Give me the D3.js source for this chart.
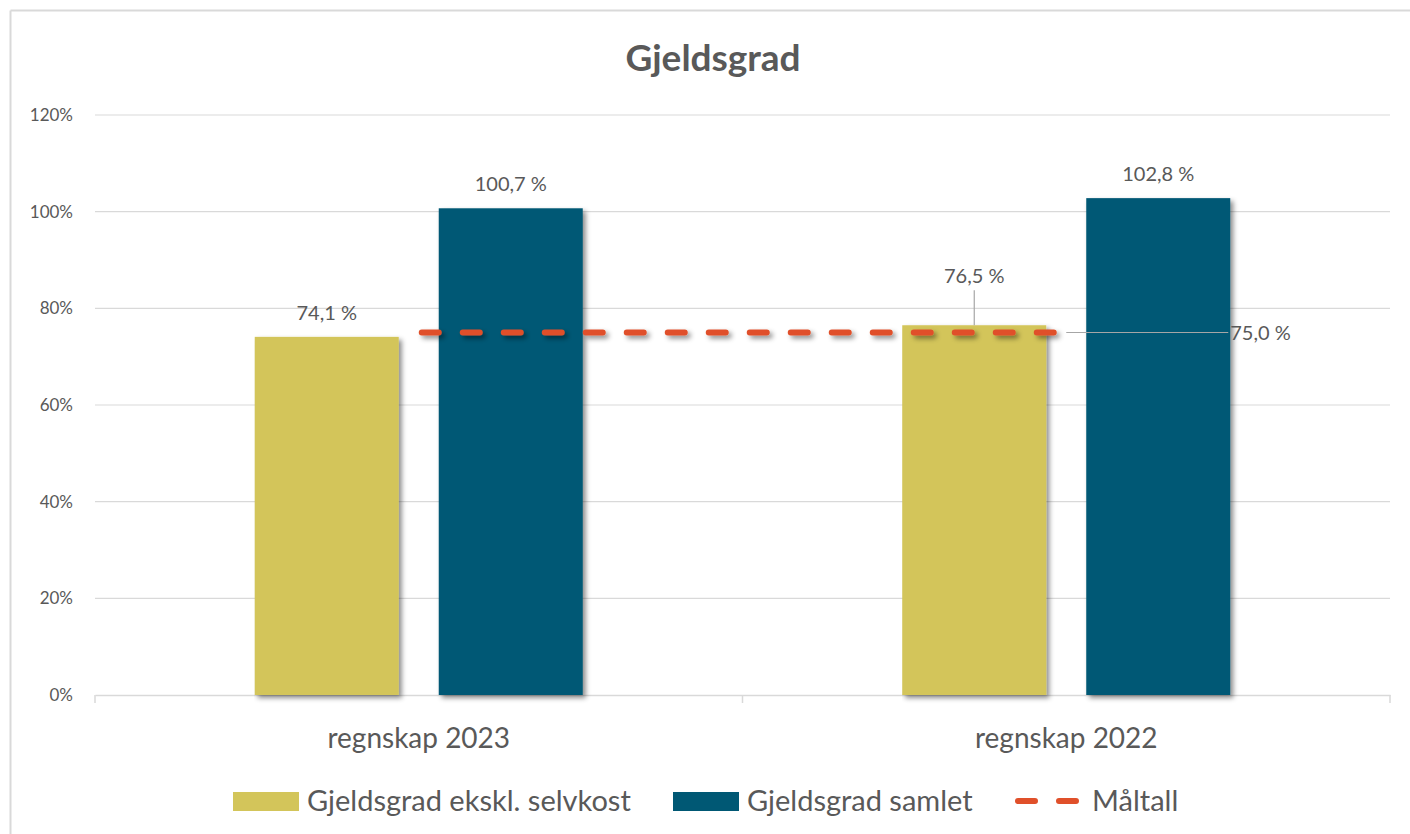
<!DOCTYPE html>
<html>
<head>
<meta charset="utf-8">
<script src="https://cdn.jsdelivr.net/npm/d3@7"></script>
<style>
  html, body { margin: 0; padding: 0; background: #fff; }
  svg { display: block; }
  text { font-family: Lato, "Open Sans", sans-serif; fill: #595959; }
</style>
</head>
<body>
<svg id="chart" width="1410" height="834"></svg>
<script>
const categories = ["regnskap 2023", "regnskap 2022"];
const seriesNames = ["Gjeldsgrad ekskl. selvkost", "Gjeldsgrad samlet"];
const exklSelvkost = [74.1, 76.5];
const samlet = [100.7, 102.8];
const maltall = [75.0, 75.0];
const yTicks = [0, 20, 40, 60, 80, 100, 120];
const lineName = "Måltall";
const title = "Gjeldsgrad";

const colors = ["#D3C55A", "#005874"];
const lineColor = "#E0502A";

const svg = d3.select("#chart");
const defs = svg.append("defs");
const f = defs.append("filter").attr("id", "shadow").attr("filterUnits", "userSpaceOnUse")
  .attr("x", 0).attr("y", 0).attr("width", 1410).attr("height", 834);
f.append("feDropShadow").attr("dx", 3).attr("dy", 3).attr("stdDeviation", 2.5).attr("flood-color", "#000").attr("flood-opacity", 0.45);

// outer border (top and left visible)
svg.append("line").attr("x1", 10.5).attr("x2", 1410).attr("y1", 10.5).attr("y2", 10.5).attr("stroke", "#d9d9d9").attr("stroke-width", 2);
svg.append("line").attr("x1", 10.5).attr("x2", 10.5).attr("y1", 10.5).attr("y2", 834).attr("stroke", "#d9d9d9").attr("stroke-width", 2);

const pLeft = 95, pRight = 1390, pTop = 115, pBottom = 695;
const x = d3.scaleBand().domain(categories).range([pLeft, pRight]).paddingInner(0).paddingOuter(0);
const y = d3.scaleLinear().domain([0, 120]).range([pBottom, pTop]);
const groupW = 328;
const xs = d3.scaleBand().domain(seriesNames).range([0, groupW]).paddingInner(40 / 184).paddingOuter(0);

// gridlines
const grid = svg.append("g");
grid.selectAll("line").data(yTicks.filter(d => d > 0)).join("line")
  .attr("x1", pLeft).attr("x2", pRight)
  .attr("y1", d => y(d)).attr("y2", d => y(d))
  .attr("stroke", "#d9d9d9").attr("stroke-width", 1.2);

// y axis labels
const yAxis = d3.axisLeft(y).tickValues(yTicks).tickFormat(d => d + "%").tickSize(0).tickPadding(22);
const gy = svg.append("g").attr("transform", `translate(${pLeft},0)`).call(yAxis);
gy.select(".domain").remove();
gy.selectAll("text").style("font-size", "17px").attr("fill", "#595959");

// x axis
const xAxis = d3.axisBottom(x).tickSize(0).tickPadding(33);
const gx = svg.append("g").attr("transform", `translate(0,${pBottom})`).call(xAxis);
gx.select(".domain").attr("stroke", "#d9d9d9").attr("stroke-width", 1.5);
gx.selectAll("text").style("font-size", "28px").attr("fill", "#595959");
// category boundary ticks
const bounds = [pLeft, pLeft + x.bandwidth(), pRight];
svg.append("g").selectAll("line").data(bounds).join("line")
  .attr("x1", d => d).attr("x2", d => d).attr("y1", pBottom).attr("y2", pBottom + 8)
  .attr("stroke", "#d9d9d9").attr("stroke-width", 1.5);

// bars
const data = categories.map((c, i) => ({ c, vals: [exklSelvkost[i], samlet[i]] }));
const groups = svg.append("g").selectAll("g").data(data).join("g")
  .attr("transform", d => `translate(${x(d.c) + (x.bandwidth() - groupW) / 2},0)`);
groups.selectAll("rect").data(d => d.vals.map((v, j) => ({ v, j }))).join("rect")
  .attr("x", d => xs(seriesNames[d.j]))
  .attr("width", xs.bandwidth())
  .attr("y", d => y(d.v))
  .attr("height", d => y(0) - y(d.v))
  .attr("fill", d => colors[d.j])
  .attr("filter", "url(#shadow)");

const fmt = v => v.toFixed(1).replace(".", ",") + " %";

// bar labels
groups.selectAll("text.lbl").data(d => d.vals.map((v, j) => ({ v, j, c: d.c }))).join("text")
  .attr("class", "lbl")
  .attr("x", d => xs(seriesNames[d.j]) + xs.bandwidth() / 2)
  .attr("y", d => (d.c === "regnskap 2022" && d.j === 0) ? y(d.v) - 42 : y(d.v) - 17)
  .attr("text-anchor", "middle")
  .style("font-size", "20px")
  .text(d => fmt(d.v));

// leader line for 76,5 label
const i22 = 1;
const x765 = x(categories[i22]) + (x.bandwidth() - groupW) / 2 + xs(seriesNames[0]) + xs.bandwidth() / 2;
svg.append("line").attr("x1", x765).attr("x2", x765)
  .attr("y1", y(exklSelvkost[i22]) - 35).attr("y2", y(exklSelvkost[i22]))
  .attr("stroke", "#a6a6a6").attr("stroke-width", 1.2);

// Måltall line
const line = d3.line().x((d, i) => x(categories[i]) + x.bandwidth() / 2).y(d => y(d));
svg.append("path").datum(maltall).attr("d", line)
  .attr("fill", "none").attr("stroke", lineColor).attr("stroke-width", 6)
  .attr("stroke-dasharray", "17 24").attr("stroke-linecap", "round")
  .attr("transform", "translate(3,0)")
  .attr("filter", "url(#shadow)");

// leader line and label for 75,0 %
const xEnd = x(categories[1]) + x.bandwidth() / 2;
svg.append("line").attr("x1", xEnd).attr("x2", xEnd + 162)
  .attr("y1", y(maltall[1])).attr("y2", y(maltall[1]))
  .attr("stroke", "#a6a6a6").attr("stroke-width", 1.2);
svg.append("text").attr("x", xEnd + 164).attr("y", y(maltall[1])).attr("dy", "0.35em")
  .style("font-size", "20px").text(fmt(maltall[1]));

// title
svg.append("text").attr("x", 713).attr("y", 71).attr("text-anchor", "middle")
  .style("font-size", "37px").style("font-weight", "bold").text(title);

// legend
const lg = svg.append("g");
const legendItems = [
  { type: "rect", color: colors[0], label: seriesNames[0], x: 233 },
  { type: "rect", color: colors[1], label: seriesNames[1], x: 673 },
  { type: "line", color: lineColor, label: lineName, x: 1015 }
];
legendItems.forEach(it => {
  if (it.type === "rect") {
    lg.append("rect").attr("x", it.x).attr("y", 792).attr("width", 66).attr("height", 19).attr("fill", it.color);
    lg.append("text").attr("x", it.x + 74).attr("y", 801).attr("dy", "0.35em").style("font-size", "29px").text(it.label);
  } else {
    lg.append("line").attr("x1", it.x + 3).attr("x2", it.x + 63).attr("y1", 801).attr("y2", 801)
      .attr("stroke", it.color).attr("stroke-width", 6).attr("stroke-dasharray", "17 24").attr("stroke-linecap", "round");
    lg.append("text").attr("x", it.x + 77).attr("y", 801).attr("dy", "0.35em").style("font-size", "29px").text(it.label);
  }
});
</script>
</body>
</html>
